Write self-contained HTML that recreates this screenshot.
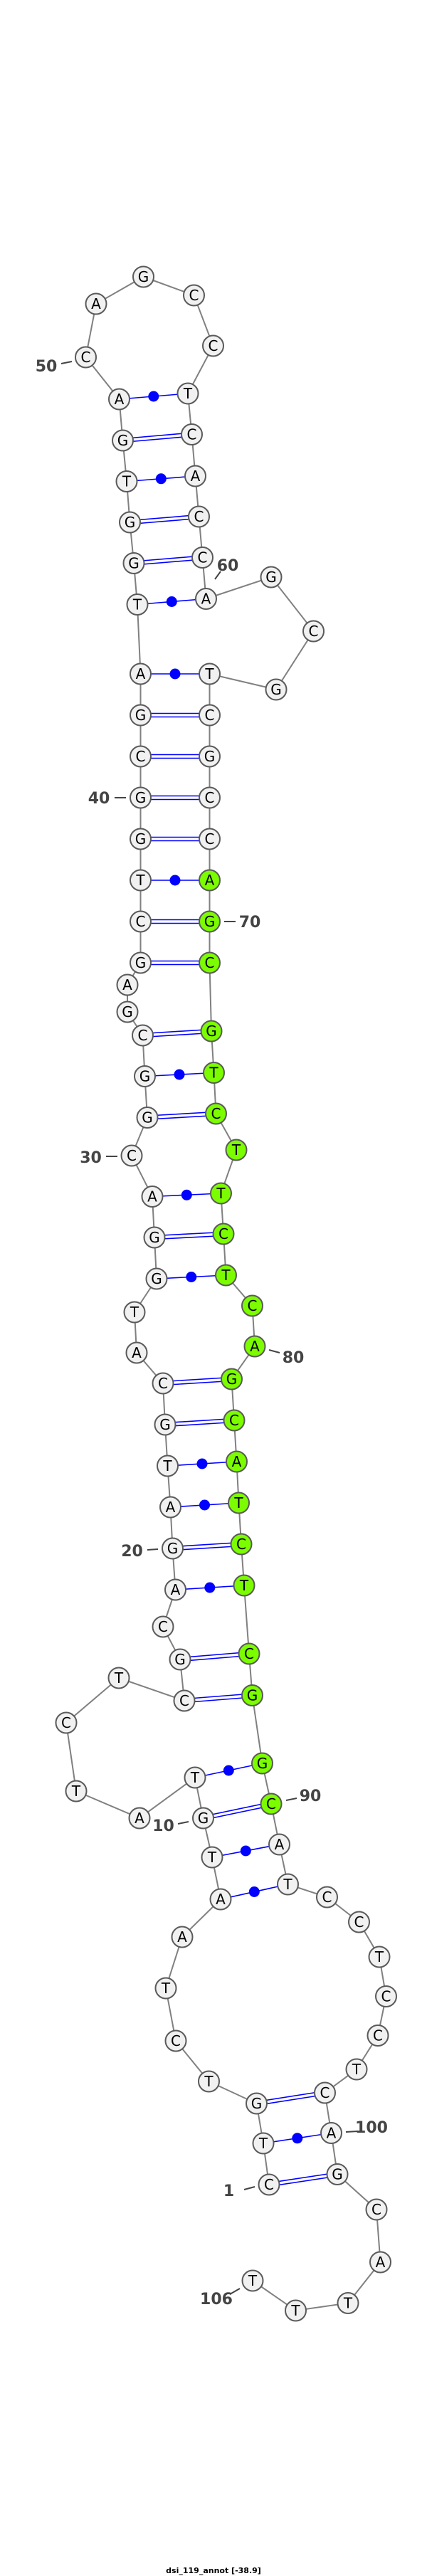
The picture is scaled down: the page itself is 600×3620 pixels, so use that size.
<!DOCTYPE html>
<html><head><meta charset="utf-8"><style>
html,body{margin:0;padding:0;background:#fff;}
svg{display:block;}
.n circle{fill:#f1f1f1;stroke:#5a5a5a;stroke-width:2;}
.n .g{fill:#7cfc00;}
.n text{font-family:"DejaVu Sans","Liberation Sans",sans-serif;font-size:20px;text-anchor:middle;fill:#000;}
.l text{font-family:"DejaVu Sans","Liberation Sans",sans-serif;font-size:22px;font-weight:bold;text-anchor:middle;fill:#444;}
.l line{stroke:#444;stroke-width:2;}
.p line{stroke:#0000ff;stroke-width:1.6;}
.p circle{fill:#0000ff;}
</style></head><body>
<svg width="600" height="3620" viewBox="0 0 600 3620" xmlns="http://www.w3.org/2000/svg">
<polyline fill="none" stroke="#808080" stroke-width="2" points="378,3070 370,3012 360.5,2956 293.5,2925 247,2868 233,2794 256,2722 310,2669 298,2610 285.5,2555 274,2498 196,2555 107,2517 93,2421 167,2358 259,2390 253,2332 229,2286 246.5,2234 242.5,2176 239.5,2118 235.5,2060 232,2002 229,1944 192,1901 189,1844 220,1797 217,1739 214,1681.5 185,1624 207,1570.5 203.5,1512.5 200.5,1455 179,1422 179,1384 197.5,1353 197.5,1295 197.5,1237 197.5,1179 197.5,1121 197.5,1063 197.5,1005 197.5,947 193,849.5 188,791.5 182.5,734 178,676.5 172.5,619 167.5,561 120.5,502 135,427 201.5,389 272.5,415 299.5,486 264,553 269.5,610.5 274.5,669 279.5,726 284.5,783.5 289.5,841.5 381,811 440.5,887 388,969 294.5,947 294.5,1005 294.5,1063 294.5,1121 294.5,1179 294.5,1237 294.5,1295 294.5,1353 297,1449 300.5,1507.5 303.5,1565 332,1616 310.5,1677 314,1734 317.5,1792 354.5,1835 358,1892 325.5,1938 329,1996 332.5,2054 335.5,2112 339,2170 343,2228 350,2324 354.5,2382.5 368.5,2478 381,2535 392.5,2592 404.5,2648 459.5,2666 504.5,2701 533,2750 542.5,2805.5 531,2860.5 501,2908 456.5,2941 465.5,2997.5 474,3055.5 529,3105 534.5,3179 489,3236.5 415.5,3247 355,3205"/>
<g class="p">
<!-- double pairs -->
<line x1="378" y1="3067.5" x2="474" y2="3053"/><line x1="378" y1="3072.5" x2="474" y2="3058"/>
<line x1="360.5" y1="2953.5" x2="456.5" y2="2938.5"/><line x1="360.5" y1="2958.5" x2="456.5" y2="2943.5"/>
<line x1="285.5" y1="2552.5" x2="381" y2="2532.5"/><line x1="285.5" y1="2557.5" x2="381" y2="2537.5"/>
<line x1="259" y1="2387.5" x2="354.5" y2="2380"/><line x1="259" y1="2392.5" x2="354.5" y2="2385"/>
<line x1="253" y1="2329.5" x2="350" y2="2321.5"/><line x1="253" y1="2334.5" x2="350" y2="2326.5"/>
<line x1="242.5" y1="2173.5" x2="339" y2="2167.5"/><line x1="242.5" y1="2178.5" x2="339" y2="2172.5"/>
<line x1="232" y1="1999.5" x2="329" y2="1993.5"/><line x1="232" y1="2004.5" x2="329" y2="1998.5"/>
<line x1="229" y1="1941.5" x2="325.5" y2="1935.5"/><line x1="229" y1="1946.5" x2="325.5" y2="1940.5"/>
<line x1="217" y1="1736.5" x2="314" y2="1731.5"/><line x1="217" y1="1741.5" x2="314" y2="1736.5"/>
<line x1="207" y1="1568" x2="303.5" y2="1562.5"/><line x1="207" y1="1573" x2="303.5" y2="1567.5"/>
<line x1="200.5" y1="1452.5" x2="297" y2="1446.5"/><line x1="200.5" y1="1457.5" x2="297" y2="1451.5"/>
<line x1="197.5" y1="1350.5" x2="294.5" y2="1350.5"/><line x1="197.5" y1="1355.5" x2="294.5" y2="1355.5"/>
<line x1="197.5" y1="1292.5" x2="294.5" y2="1292.5"/><line x1="197.5" y1="1297.5" x2="294.5" y2="1297.5"/>
<line x1="197.5" y1="1176.5" x2="294.5" y2="1176.5"/><line x1="197.5" y1="1181.5" x2="294.5" y2="1181.5"/>
<line x1="197.5" y1="1118.5" x2="294.5" y2="1118.5"/><line x1="197.5" y1="1123.5" x2="294.5" y2="1123.5"/>
<line x1="197.5" y1="1060.5" x2="294.5" y2="1060.5"/><line x1="197.5" y1="1065.5" x2="294.5" y2="1065.5"/>
<line x1="197.5" y1="1002.5" x2="294.5" y2="1002.5"/><line x1="197.5" y1="1007.5" x2="294.5" y2="1007.5"/>
<line x1="188" y1="789" x2="284.5" y2="781"/><line x1="188" y1="794" x2="284.5" y2="786"/>
<line x1="182.5" y1="731.5" x2="279.5" y2="723.5"/><line x1="182.5" y1="736.5" x2="279.5" y2="728.5"/>
<line x1="172.5" y1="616.5" x2="269.5" y2="608"/><line x1="172.5" y1="621.5" x2="269.5" y2="613"/>
<!-- dot pairs -->
<line x1="370" y1="3012" x2="465.5" y2="2997.5"/><circle cx="417.8" cy="3004.8" r="7.5"/>
<line x1="310" y1="2669" x2="404.5" y2="2648"/><circle cx="357.3" cy="2658.5" r="7.5"/>
<line x1="298" y1="2610" x2="392.5" y2="2592"/><circle cx="345.3" cy="2601" r="7.5"/>
<line x1="274" y1="2498" x2="368.5" y2="2478"/><circle cx="321.3" cy="2488" r="7.5"/>
<line x1="246.5" y1="2234" x2="343" y2="2228"/><circle cx="294.8" cy="2231" r="7.5"/>
<line x1="239.5" y1="2118" x2="335.5" y2="2112"/><circle cx="287.5" cy="2115" r="7.5"/>
<line x1="235.5" y1="2060" x2="332.5" y2="2054"/><circle cx="284" cy="2057" r="7.5"/>
<line x1="220" y1="1797" x2="317.5" y2="1792"/><circle cx="268.8" cy="1794.5" r="7.5"/>
<line x1="214" y1="1681.5" x2="310.5" y2="1677"/><circle cx="262.3" cy="1679.3" r="7.5"/>
<line x1="203.5" y1="1512.5" x2="300.5" y2="1507.5"/><circle cx="252" cy="1510" r="7.5"/>
<line x1="197.5" y1="1237" x2="294.5" y2="1237"/><circle cx="246" cy="1237" r="7.5"/>
<line x1="197.5" y1="947" x2="294.5" y2="947"/><circle cx="246" cy="947" r="7.5"/>
<line x1="193" y1="849.5" x2="289.5" y2="841.5"/><circle cx="241.3" cy="845.5" r="7.5"/>
<line x1="178" y1="676.5" x2="274.5" y2="669"/><circle cx="226.3" cy="672.8" r="7.5"/>
<line x1="167.5" y1="561" x2="264" y2="553"/><circle cx="215.8" cy="557" r="7.5"/>
</g>
<g class="n">
<circle cx="378" cy="3070" r="14.5"/><text x="378" y="3077">C</text>
<circle cx="370" cy="3012" r="14.5"/><text x="370" y="3019">T</text>
<circle cx="360.5" cy="2956" r="14.5"/><text x="360.5" y="2963">G</text>
<circle cx="293.5" cy="2925" r="14.5"/><text x="293.5" y="2932">T</text>
<circle cx="247" cy="2868" r="14.5"/><text x="247" y="2875">C</text>
<circle cx="233" cy="2794" r="14.5"/><text x="233" y="2801">T</text>
<circle cx="256" cy="2722" r="14.5"/><text x="256" y="2729">A</text>
<circle cx="310" cy="2669" r="14.5"/><text x="310" y="2676">A</text>
<circle cx="298" cy="2610" r="14.5"/><text x="298" y="2617">T</text>
<circle cx="285.5" cy="2555" r="14.5"/><text x="285.5" y="2562">G</text>
<circle cx="274" cy="2498" r="14.5"/><text x="274" y="2505">T</text>
<circle cx="196" cy="2555" r="14.5"/><text x="196" y="2562">A</text>
<circle cx="107" cy="2517" r="14.5"/><text x="107" y="2524">T</text>
<circle cx="93" cy="2421" r="14.5"/><text x="93" y="2428">C</text>
<circle cx="167" cy="2358" r="14.5"/><text x="167" y="2365">T</text>
<circle cx="259" cy="2390" r="14.5"/><text x="259" y="2397">C</text>
<circle cx="253" cy="2332" r="14.5"/><text x="253" y="2339">G</text>
<circle cx="229" cy="2286" r="14.5"/><text x="229" y="2293">C</text>
<circle cx="246.5" cy="2234" r="14.5"/><text x="246.5" y="2241">A</text>
<circle cx="242.5" cy="2176" r="14.5"/><text x="242.5" y="2183">G</text>
<circle cx="239.5" cy="2118" r="14.5"/><text x="239.5" y="2125">A</text>
<circle cx="235.5" cy="2060" r="14.5"/><text x="235.5" y="2067">T</text>
<circle cx="232" cy="2002" r="14.5"/><text x="232" y="2009">G</text>
<circle cx="229" cy="1944" r="14.5"/><text x="229" y="1951">C</text>
<circle cx="192" cy="1901" r="14.5"/><text x="192" y="1908">A</text>
<circle cx="189" cy="1844" r="14.5"/><text x="189" y="1851">T</text>
<circle cx="220" cy="1797" r="14.5"/><text x="220" y="1804">G</text>
<circle cx="217" cy="1739" r="14.5"/><text x="217" y="1746">G</text>
<circle cx="214" cy="1681.5" r="14.5"/><text x="214" y="1688.5">A</text>
<circle cx="185" cy="1624" r="14.5"/><text x="185" y="1631">C</text>
<circle cx="207" cy="1570.5" r="14.5"/><text x="207" y="1577.5">G</text>
<circle cx="203.5" cy="1512.5" r="14.5"/><text x="203.5" y="1519.5">G</text>
<circle cx="200.5" cy="1455" r="14.5"/><text x="200.5" y="1462">C</text>
<circle cx="179" cy="1422" r="14.5"/><text x="179" y="1429">G</text>
<circle cx="179" cy="1384" r="14.5"/><text x="179" y="1391">A</text>
<circle cx="197.5" cy="1353" r="14.5"/><text x="197.5" y="1360">G</text>
<circle cx="197.5" cy="1295" r="14.5"/><text x="197.5" y="1302">C</text>
<circle cx="197.5" cy="1237" r="14.5"/><text x="197.5" y="1244">T</text>
<circle cx="197.5" cy="1179" r="14.5"/><text x="197.5" y="1186">G</text>
<circle cx="197.5" cy="1121" r="14.5"/><text x="197.5" y="1128">G</text>
<circle cx="197.5" cy="1063" r="14.5"/><text x="197.5" y="1070">C</text>
<circle cx="197.5" cy="1005" r="14.5"/><text x="197.5" y="1012">G</text>
<circle cx="197.5" cy="947" r="14.5"/><text x="197.5" y="954">A</text>
<circle cx="193" cy="849.5" r="14.5"/><text x="193" y="856.5">T</text>
<circle cx="188" cy="791.5" r="14.5"/><text x="188" y="798.5">G</text>
<circle cx="182.5" cy="734" r="14.5"/><text x="182.5" y="741">G</text>
<circle cx="178" cy="676.5" r="14.5"/><text x="178" y="683.5">T</text>
<circle cx="172.5" cy="619" r="14.5"/><text x="172.5" y="626">G</text>
<circle cx="167.5" cy="561" r="14.5"/><text x="167.5" y="568">A</text>
<circle cx="120.5" cy="502" r="14.5"/><text x="120.5" y="509">C</text>
<circle cx="135" cy="427" r="14.5"/><text x="135" y="434">A</text>
<circle cx="201.5" cy="389" r="14.5"/><text x="201.5" y="396">G</text>
<circle cx="272.5" cy="415" r="14.5"/><text x="272.5" y="422">C</text>
<circle cx="299.5" cy="486" r="14.5"/><text x="299.5" y="493">C</text>
<circle cx="264" cy="553" r="14.5"/><text x="264" y="560">T</text>
<circle cx="269.5" cy="610.5" r="14.5"/><text x="269.5" y="617.5">C</text>
<circle cx="274.5" cy="669" r="14.5"/><text x="274.5" y="676">A</text>
<circle cx="279.5" cy="726" r="14.5"/><text x="279.5" y="733">C</text>
<circle cx="284.5" cy="783.5" r="14.5"/><text x="284.5" y="790.5">C</text>
<circle cx="289.5" cy="841.5" r="14.5"/><text x="289.5" y="848.5">A</text>
<circle cx="381" cy="811" r="14.5"/><text x="381" y="818">G</text>
<circle cx="440.5" cy="887" r="14.5"/><text x="440.5" y="894">C</text>
<circle cx="388" cy="969" r="14.5"/><text x="388" y="976">G</text>
<circle cx="294.5" cy="947" r="14.5"/><text x="294.5" y="954">T</text>
<circle cx="294.5" cy="1005" r="14.5"/><text x="294.5" y="1012">C</text>
<circle cx="294.5" cy="1063" r="14.5"/><text x="294.5" y="1070">G</text>
<circle cx="294.5" cy="1121" r="14.5"/><text x="294.5" y="1128">C</text>
<circle cx="294.5" cy="1179" r="14.5"/><text x="294.5" y="1186">C</text>
<circle class="g" cx="294.5" cy="1237" r="14.5"/><text x="294.5" y="1244">A</text>
<circle class="g" cx="294.5" cy="1295" r="14.5"/><text x="294.5" y="1302">G</text>
<circle class="g" cx="294.5" cy="1353" r="14.5"/><text x="294.5" y="1360">C</text>
<circle class="g" cx="297" cy="1449" r="14.5"/><text x="297" y="1456">G</text>
<circle class="g" cx="300.5" cy="1507.5" r="14.5"/><text x="300.5" y="1514.5">T</text>
<circle class="g" cx="303.5" cy="1565" r="14.5"/><text x="303.5" y="1572">C</text>
<circle class="g" cx="332" cy="1616" r="14.5"/><text x="332" y="1623">T</text>
<circle class="g" cx="310.5" cy="1677" r="14.5"/><text x="310.5" y="1684">T</text>
<circle class="g" cx="314" cy="1734" r="14.5"/><text x="314" y="1741">C</text>
<circle class="g" cx="317.5" cy="1792" r="14.5"/><text x="317.5" y="1799">T</text>
<circle class="g" cx="354.5" cy="1835" r="14.5"/><text x="354.5" y="1842">C</text>
<circle class="g" cx="358" cy="1892" r="14.5"/><text x="358" y="1899">A</text>
<circle class="g" cx="325.5" cy="1938" r="14.5"/><text x="325.5" y="1945">G</text>
<circle class="g" cx="329" cy="1996" r="14.5"/><text x="329" y="2003">C</text>
<circle class="g" cx="332.5" cy="2054" r="14.5"/><text x="332.5" y="2061">A</text>
<circle class="g" cx="335.5" cy="2112" r="14.5"/><text x="335.5" y="2119">T</text>
<circle class="g" cx="339" cy="2170" r="14.5"/><text x="339" y="2177">C</text>
<circle class="g" cx="343" cy="2228" r="14.5"/><text x="343" y="2235">T</text>
<circle class="g" cx="350" cy="2324" r="14.5"/><text x="350" y="2331">C</text>
<circle class="g" cx="354.5" cy="2382.5" r="14.5"/><text x="354.5" y="2389.5">G</text>
<circle class="g" cx="368.5" cy="2478" r="14.5"/><text x="368.5" y="2485">G</text>
<circle class="g" cx="381" cy="2535" r="14.5"/><text x="381" y="2542">C</text>
<circle cx="392.5" cy="2592" r="14.5"/><text x="392.5" y="2599">A</text>
<circle cx="404.5" cy="2648" r="14.5"/><text x="404.5" y="2655">T</text>
<circle cx="459.5" cy="2666" r="14.5"/><text x="459.5" y="2673">C</text>
<circle cx="504.5" cy="2701" r="14.5"/><text x="504.5" y="2708">C</text>
<circle cx="533" cy="2750" r="14.5"/><text x="533" y="2757">T</text>
<circle cx="542.5" cy="2805.5" r="14.5"/><text x="542.5" y="2812.5">C</text>
<circle cx="531" cy="2860.5" r="14.5"/><text x="531" y="2867.5">C</text>
<circle cx="501" cy="2908" r="14.5"/><text x="501" y="2915">T</text>
<circle cx="456.5" cy="2941" r="14.5"/><text x="456.5" y="2948">C</text>
<circle cx="465.5" cy="2997.5" r="14.5"/><text x="465.5" y="3004.5">A</text>
<circle cx="474" cy="3055.5" r="14.5"/><text x="474" y="3062.5">G</text>
<circle cx="529" cy="3105" r="14.5"/><text x="529" y="3112">C</text>
<circle cx="534.5" cy="3179" r="14.5"/><text x="534.5" y="3186">A</text>
<circle cx="489" cy="3236.5" r="14.5"/><text x="489" y="3243.5">T</text>
<circle cx="415.5" cy="3247" r="14.5"/><text x="415.5" y="3254">T</text>
<circle cx="355" cy="3205" r="14.5"/><text x="355" y="3212">T</text>
</g>
<g class="l">
<line x1="343" y1="3077" x2="358" y2="3073"/><text x="321.5" y="3086">1</text>
<line x1="250" y1="2563" x2="265" y2="2560"/><text x="229.5" y="2573">10</text>
<line x1="207" y1="2178" x2="222" y2="2177"/><text x="185.5" y="2187">20</text>
<line x1="149" y1="1625" x2="165" y2="1625"/><text x="127.5" y="1634">30</text>
<line x1="161" y1="1121" x2="177" y2="1121"/><text x="139" y="1129">40</text>
<line x1="86" y1="511" x2="101" y2="508"/><text x="65" y="522">50</text>
<line x1="310" y1="803" x2="302" y2="814"/><text x="320" y="802">60</text>
<line x1="315" y1="1295" x2="331" y2="1295"/><text x="351" y="1303">70</text>
<line x1="378" y1="1897" x2="393" y2="1901"/><text x="412" y="1915">80</text>
<line x1="402" y1="2530" x2="417" y2="2527"/><text x="436" y="2531">90</text>
<line x1="486" y1="2996" x2="503" y2="2995"/><text x="522" y="2997">100</text>
<line x1="323" y1="3224" x2="337" y2="3216"/><text x="304" y="3238">106</text>
</g>
<text x="300" y="3616" font-family="DejaVu Sans, Liberation Sans, sans-serif" font-size="11" font-weight="bold" text-anchor="middle" fill="#000">dsi_119_annot [-38.9]</text>
</svg>
</body></html>
